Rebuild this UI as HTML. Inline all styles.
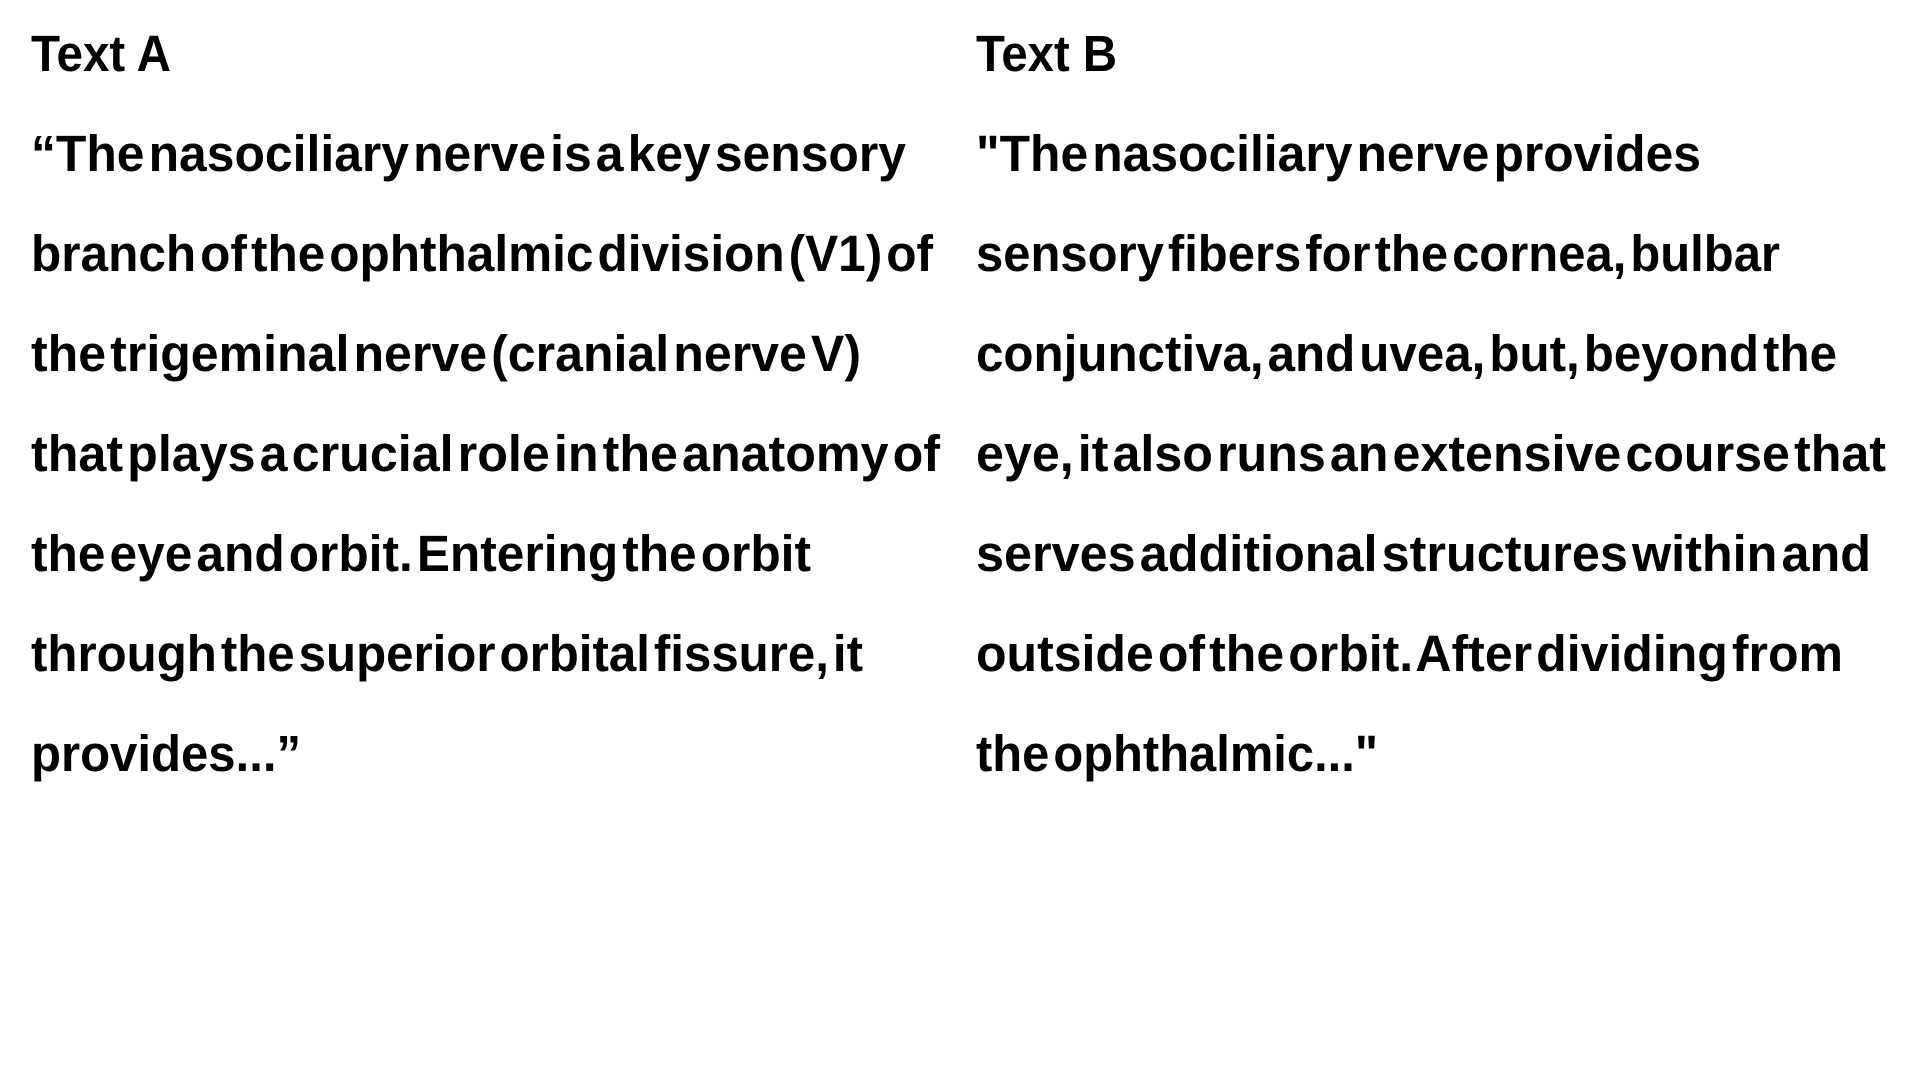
<!DOCTYPE html>
<html><head><meta charset="utf-8"><style>
html,body{margin:0;padding:0;background:#fff;width:1920px;height:1080px;overflow:hidden}
svg text{font-family:"Liberation Sans",sans-serif;font-weight:bold;fill:#000;font-size:51px;word-spacing:-10px}
</style></head><body>
<svg width="1920" height="1080">
<text x="31" y="71" textLength="140" lengthAdjust="spacingAndGlyphs" style="word-spacing:0">Text A</text>
<text x="976" y="71" textLength="141" lengthAdjust="spacingAndGlyphs" style="word-spacing:0">Text B</text>
<g>
<text x="31" y="171" textLength="875" lengthAdjust="spacingAndGlyphs">“The nasociliary nerve is a key sensory</text>
<text x="31" y="271" textLength="902" lengthAdjust="spacingAndGlyphs">branch of the ophthalmic division (V1) of</text>
<text x="31" y="371" textLength="830" lengthAdjust="spacingAndGlyphs">the trigeminal nerve (cranial nerve V)</text>
<text x="31" y="471" textLength="909" lengthAdjust="spacingAndGlyphs">that plays a crucial role in the anatomy of</text>
<text x="31" y="571" textLength="780" lengthAdjust="spacingAndGlyphs">the eye and orbit. Entering the orbit</text>
<text x="31" y="671" textLength="832" lengthAdjust="spacingAndGlyphs">through the superior orbital fissure, it</text>
<text x="31" y="771" textLength="270" lengthAdjust="spacingAndGlyphs">provides...”</text>
</g>
<g>
<text x="976" y="171" textLength="725" lengthAdjust="spacingAndGlyphs">"The nasociliary nerve provides</text>
<text x="976" y="271" textLength="804" lengthAdjust="spacingAndGlyphs">sensory fibers for the cornea, bulbar</text>
<text x="976" y="371" textLength="861" lengthAdjust="spacingAndGlyphs">conjunctiva, and uvea, but, beyond the</text>
<text x="976" y="471" textLength="910" lengthAdjust="spacingAndGlyphs">eye, it also runs an extensive course that</text>
<text x="976" y="571" textLength="895" lengthAdjust="spacingAndGlyphs">serves additional structures within and</text>
<text x="976" y="671" textLength="867" lengthAdjust="spacingAndGlyphs">outside of the orbit. After dividing from</text>
<text x="976" y="771" textLength="402" lengthAdjust="spacingAndGlyphs">the ophthalmic..."</text>
</g>
</svg>
</body></html>
